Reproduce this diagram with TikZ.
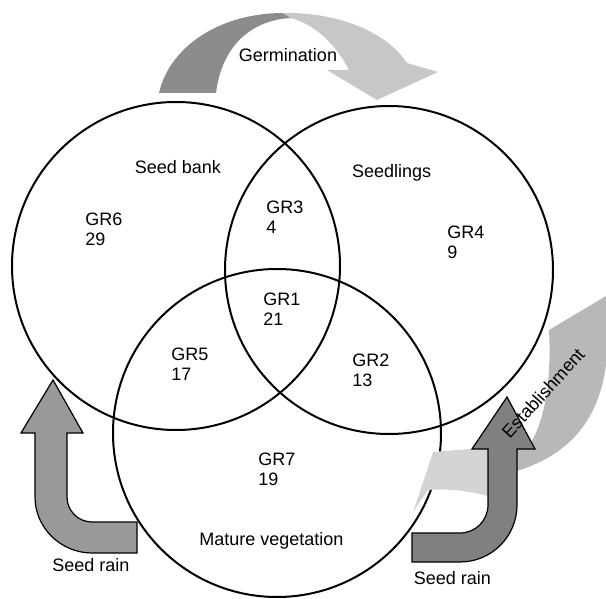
\documentclass[tikz,border=0pt]{standalone}
\usepackage{fontspec}
\setmainfont{Liberation Sans}

\begin{document}
\begin{tikzpicture}[x=0.5pt,y=-0.5pt,
    font=\fontsize{9}{10}\selectfont,
    venn/.style={draw, circle, line width=1pt, minimum size=164pt, inner sep=0pt},
    grp/.style={align=left, anchor=west, inner sep=0pt},
    rain/.style={draw, line width=0.6pt, line join=miter}]

    \useasboundingbox (0,0) rectangle (606,599);

    % Circles
    \node[venn] (bank) at (176,266){};
    \node[venn] (seedl) at (389,270){};
    \node[venn] (mature) at (277,433){};

    \node[grp] (lbank) at (134.5,167){Seed bank};
    \node[grp] (lseedl) at (351.6,173){Seedlings};
    \node[grp] (lmature) at (199,541){Mature vegetation};

    % Groups
    \node[grp] (gr6) at (85,229){GR6\\29};
    \node[grp] (gr3) at (266,217){GR3\\4};
    \node[grp] (gr4) at (447,242){GR4\\9};
    \node[grp] (gr1) at (263,309){GR1\\21};
    \node[grp] (gr5) at (171,364){GR5\\17};
    \node[grp] (gr2) at (352,370){GR2\\13};
    \node[grp] (gr7) at (258,469){GR7\\19};

    % Germination
    \fill[black!45] (159,93) .. controls (170,45) and (222,13) .. (283,13)
        -- (291,18) .. controls (252,20) and (222,45) .. (216,93) -- cycle;
    \fill[black!22] (283,13) .. controls (335,12) and (385,30) .. (407,63)
        -- (438,72) -- (377,100) -- (327,70) -- (349,70)
        .. controls (336,45) and (316,25) .. (291,18) -- cycle;
    \node (lgerm) at (288,55){Germination};

    % Establishment
    \fill[black!28] (549,330) -- (606,296) -- (606,365)
        .. controls (598,425) and (565,455) .. (520,470) -- (495,480)
        -- (495,450) -- (527,448)
        .. controls (543,428) and (552,385) .. (549,330) -- cycle;
    \fill[black!17] (495,447) -- (433,452) -- (413,512) -- (428,490)
        .. controls (450,488) and (475,492) .. (495,498) -- cycle;

    % Seed rain
    \draw[rain, fill=black!40] (53,380) -- (83,433) -- (67,433) -- (67,497)
        .. controls (67,510.8) and (78.2,522) .. (92,522) -- (137,522)
        -- (137,553) -- (92,553) .. controls (61,553) and (35,528) .. (35,497)
        -- (35,433) -- (21,433) -- cycle;
    \node[grp] (lrain1) at (52,565){Seed rain};

    \draw[rain, fill=black!50] (507,397) -- (535,449) -- (517,449) -- (517,505)
        .. controls (517,536.5) and (491.5,562) .. (460,562) -- (412,562)
        -- (412,533) -- (460,533) .. controls (475.5,533) and (488,520.5) .. (488,505)
        -- (488,449) -- (472,449) -- cycle;
    \node[grp] (lrain2) at (413.5,578){Seed rain};

    \node[rotate=48] (lest) at (543,393){Establishment};

\end{tikzpicture}
\end{document}
